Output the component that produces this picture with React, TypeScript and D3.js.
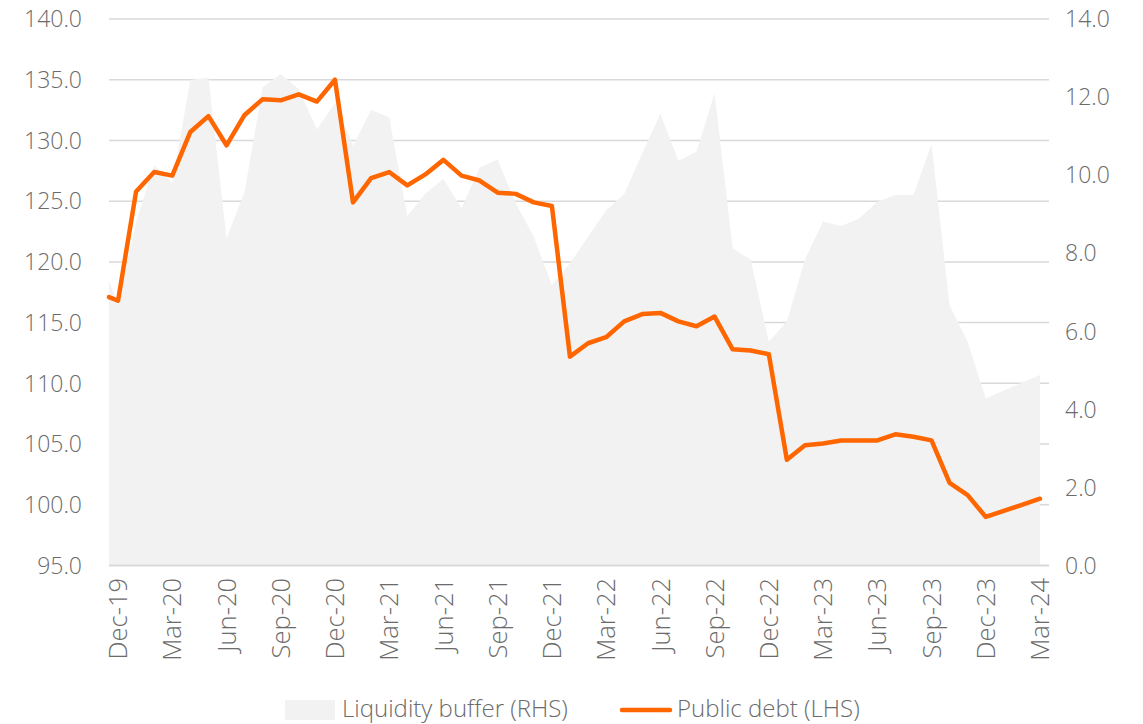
import React from "react";
import * as d3 from "d3";

const tickLabels = ["Dec-19","Mar-20","Jun-20","Sep-20","Dec-20","Mar-21","Jun-21","Sep-21","Dec-21","Mar-22","Jun-22","Sep-22","Dec-22","Mar-23","Jun-23","Sep-23","Dec-23","Mar-24"];

// Monthly categories Dec-19 .. Mar-24
const months = d3.timeMonth.range(new Date(2019, 11, 1), new Date(2024, 3, 1)).map((d) => d3.timeFormat("%b-%y")(d));

// Values at the left edge of the plot (before first category)
const debtStart = 117.1;
const bufferStart = 7.3;

// Public debt (LHS)
const debt = [
  116.8, 125.8, 127.4, 127.1, 130.7, 132.0, 129.6, 132.1, 133.4, 133.3, 133.8, 133.2, 135.0,
  124.9, 126.9, 127.4, 126.3, 127.2, 128.4, 127.1, 126.7, 125.7, 125.6, 124.9, 124.6,
  112.2, 113.3, 113.8, 115.1, 115.7, 115.8, 115.1, 114.7, 115.5, 112.8, 112.7, 112.4,
  103.7, 104.9, 105.05, 105.3, 105.3, 105.3, 105.8, 105.6, 105.3, 101.8, 100.8, 99.0,
  99.5, 100.0, 100.5,
];

// Liquidity buffer (RHS)
const buffer = [
  6.7, 8.8, 10.26, 9.79, 12.44, 12.5, 8.38, 9.57, 12.25, 12.59, 12.2, 11.17, 11.85,
  10.75, 11.67, 11.48, 8.95, 9.53, 9.9, 9.15, 10.19, 10.4, 9.28, 8.42, 7.18,
  7.74, 8.42, 9.1, 9.52, 10.56, 11.57, 10.37, 10.6, 12.1, 8.12, 7.84, 5.73,
  6.25, 7.84, 8.81, 8.7, 8.89, 9.32, 9.49, 9.49, 10.8, 6.67, 5.73, 4.28,
  4.48, 4.68, 4.88,
];

const leftTicks = [95, 100, 105, 110, 115, 120, 125, 130, 135, 140];
const rightTicks = [0, 2, 4, 6, 8, 10, 12, 14];

const W = 1143;
const H = 724;
const plot = { left: 109, right: 1049, top: 19, bottom: 565.5 };
const FONT = "'Open Sans', 'Segoe UI', sans-serif";
const TEXT = "#6b6b6b";

export default function App() {
  const x = d3.scalePoint<string>().domain(months).range([plot.left, plot.right]).padding(0.5);
  const yL = d3.scaleLinear().domain([95, 140]).range([plot.bottom, plot.top]);
  const yR = d3.scaleLinear().domain([0, 14]).range([plot.bottom, plot.top]);

  type P = { x: number; l: number; r: number };
  const pts: P[] = [{ x: plot.left, l: debtStart, r: bufferStart }].concat(
    months.map((m, i) => ({ x: x(m) as number, l: debt[i], r: buffer[i] }))
  );

  const area = d3.area<P>().x((d) => d.x).y0(yR(0)).y1((d) => yR(d.r));
  const line = d3.line<P>().x((d) => d.x).y((d) => yL(d.l));

  return (
    <svg width={W} height={H} style={{ position: "absolute", left: 0, top: 0, background: "#fff" }}>
      {leftTicks.filter((t) => t !== 95).map((t) => (
        <line key={t} x1={plot.left} x2={plot.right} y1={yL(t)} y2={yL(t)} stroke="#d9d9d9" strokeWidth={1.5} />
      ))}
      <path d={area(pts) || ""} fill="#f2f2f2" />
      <line x1={plot.left} x2={plot.right} y1={yL(95)} y2={yL(95)} stroke="#d9d9d9" strokeWidth={2} />
      <path d={line(pts) || ""} fill="none" stroke="#ff6600" strokeWidth={4.5} strokeLinejoin="round" strokeLinecap="round" />
      {leftTicks.map((t) => (
        <text key={"l" + t} x={82} y={yL(t)} dy="0.36em" textAnchor="end" fontFamily={FONT} fontWeight={300} fontSize={23} fill={TEXT}>
          {t.toFixed(1)}
        </text>
      ))}
      {rightTicks.map((t) => (
        <text key={"r" + t} x={1065} y={yR(t)} dy="0.36em" textAnchor="start" fontFamily={FONT} fontWeight={300} fontSize={23} fill={TEXT}>
          {t.toFixed(1)}
        </text>
      ))}
      {tickLabels.map((lab) => (
        <text
          key={lab}
          transform={`translate(${x(lab) as number},578) rotate(-90)`}
          dy="0.36em"
          textAnchor="end"
          fontFamily={FONT}
          fontWeight={300}
          fontSize={25.5}
          fill={TEXT}
        >
          {lab}
        </text>
      ))}
      <rect x={285} y={700} width={50} height={20} fill="#f2f2f2" />
      <text x={342} y={708} dy="0.36em" fontFamily={FONT} fontWeight={300} fontSize={24} fill={TEXT}>
        Liquidity buffer (RHS)
      </text>
      <line x1={622} x2={670} y1={710} y2={710} stroke="#ff6600" strokeWidth={4.5} strokeLinecap="round" />
      <text x={677} y={708} dy="0.36em" fontFamily={FONT} fontWeight={300} fontSize={24} fill={TEXT}>
        Public debt (LHS)
      </text>
    </svg>
  );
}
